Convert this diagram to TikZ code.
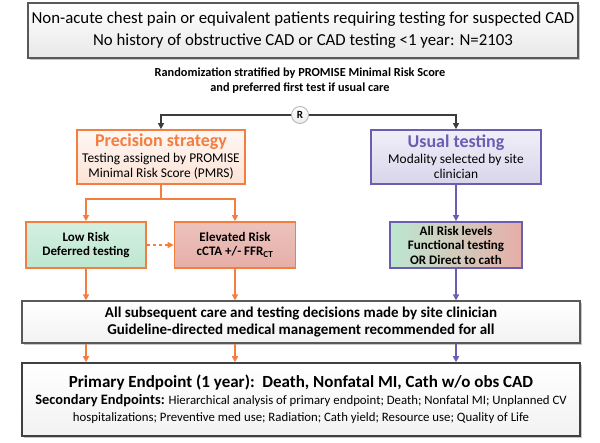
\documentclass[tikz,border=0pt]{standalone}
\usepackage{fontspec}
\setmainfont{Carlito}
\usetikzlibrary{arrows.meta, shapes, positioning, shadows}

\definecolor{precorange}{HTML}{F47D40}
\definecolor{usualpurple}{HTML}{6A5EB3}
\definecolor{lowgreen}{HTML}{BDE7D0}
\definecolor{elevred}{HTML}{E6AEA7}
\definecolor{darkline}{HTML}{3C3C3C}

\begin{document}
\begin{tikzpicture}[x=1pt,y=-1pt,
 plain box/.style={rectangle,draw,align=center,inner sep=2pt},
 outer box/.style={plain box,draw=gray!70!black,line width=1.2pt,
   top color=white,bottom color=gray!18,
   drop shadow={shadow xshift=1.5pt,shadow yshift=-1.5pt,opacity=.45}},
 arm box/.style={plain box,line width=1.8pt,minimum width=#1,minimum height=54pt,
   font=\fontsize{13.4}{15.5}\selectfont},
 risk box/.style={plain box,line width=1.8pt,minimum width=#1,minimum height=46pt,
   font=\bfseries\fontsize{13}{14.5}\selectfont},
 orange arrow/.style={draw=precorange,line width=1.5pt,-{Triangle[length=6pt,width=6pt]}},
 purple arrow/.style={draw=usualpurple,line width=1.5pt,-{Triangle[length=6pt,width=6pt]}},
 dark arrow/.style={draw=darkline,line width=1.2pt,-{Triangle[length=6pt,width=6pt]}}]

  \useasboundingbox (0,0) rectangle (600,442);

  % population and randomization
  \node[outer box,minimum width=550pt,minimum height=55pt,
    font=\fontsize{16.8}{22}\selectfont] (pop) at (303,30.5)
    {Non-acute chest pain or equivalent patients requiring testing for suspected CAD\\
     No history of obstructive CAD or CAD testing <1 year: N=2103};
  \node[align=center,font=\bfseries\fontsize{12.3}{15}\selectfont] (rand) at (300,81)
    {Randomization stratified by PROMISE Minimal Risk Score\\
     and preferred first test if usual care};
  \node[circle,draw=gray!60,line width=0.8pt,top color=white,bottom color=gray!15,
    minimum size=17pt,inner sep=0pt,font=\bfseries\fontsize{11}{13}\selectfont] (R) at (300,115) {R};

  % the two arms
  \node[arm box=168pt,draw=precorange,top color=precorange!6,bottom color=precorange!22] (prec) at (161,157)
    {{\bfseries\fontsize{18}{20}\selectfont\color{precorange}Precision strategy}\\
     Testing assigned by PROMISE\\ Minimal Risk Score (PMRS)};
  \node[arm box=170pt,draw=usualpurple,top color=usualpurple!10,bottom color=usualpurple!26] (usual) at (456,157)
    {{\bfseries\fontsize{18}{20}\selectfont\color{usualpurple}Usual testing}\\
     Modality selected by site\\ clinician};

  % risk groups
  \node[risk box=120pt,draw=precorange,top color=lowgreen!65,bottom color=lowgreen] (low) at (86,245)
    {Low Risk\\ Deferred testing};
  \node[risk box=121pt,draw=precorange,top color=elevred!75,bottom color=elevred] (elev) at (235,245)
    {Elevated Risk\\ cCTA +/- FFR\textsubscript{CT}};
  \node[risk box=132pt,draw=usualpurple,left color=lowgreen,right color=elevred] (all) at (456,245)
    {All Risk levels\\ Functional testing\\ OR Direct to cath};

  % follow-up and endpoints
  \node[outer box,minimum width=558pt,minimum height=42pt,top color=white,bottom color=gray!10,
    font=\bfseries\fontsize{15}{17}\selectfont] (care) at (301,322)
    {All subsequent care and testing decisions made by site clinician\\
     Guideline-directed medical management recommended for all};
  \node[outer box,draw=black!75,line width=1.6pt,minimum width=558pt,minimum height=73pt,
    top color=white,bottom color=gray!10,font=\fontsize{12.8}{17}\selectfont] (end) at (301,399.5)
    {{\bfseries\fontsize{17}{19}\selectfont Primary Endpoint (1 year):\ \ Death, Nonfatal MI, Cath w/o obs CAD}\\
     {\bfseries\fontsize{14.4}{17}\selectfont Secondary Endpoints:} Hierarchical analysis of primary endpoint; Death; Nonfatal MI; Unplanned CV\\
     hospitalizations; Preventive med use; Radiation; Cath yield; Resource use; Quality of Life};

  % connectors
  \draw[dark arrow] (R) -| (prec);
  \draw[dark arrow] (R) -| (usual);
  \coordinate (split) at ([yshift=-14pt]prec.south);
  \draw[draw=precorange,line width=1.5pt] (prec) -- (split);
  \foreach \t in {low, elev}
    \draw[orange arrow] (split) -| (\t);
  \draw[purple arrow] (usual) -- (all);
  \draw[orange arrow,dashed] (low) -- (elev);

  \foreach \s/\a in {low/orange arrow, elev/orange arrow, all/purple arrow} {
    \draw[\a] (\s) -- (\s |- care.north);
    \draw[\a] (\s |- care.south) -- (\s |- end.north);}

\end{tikzpicture}
\end{document}
